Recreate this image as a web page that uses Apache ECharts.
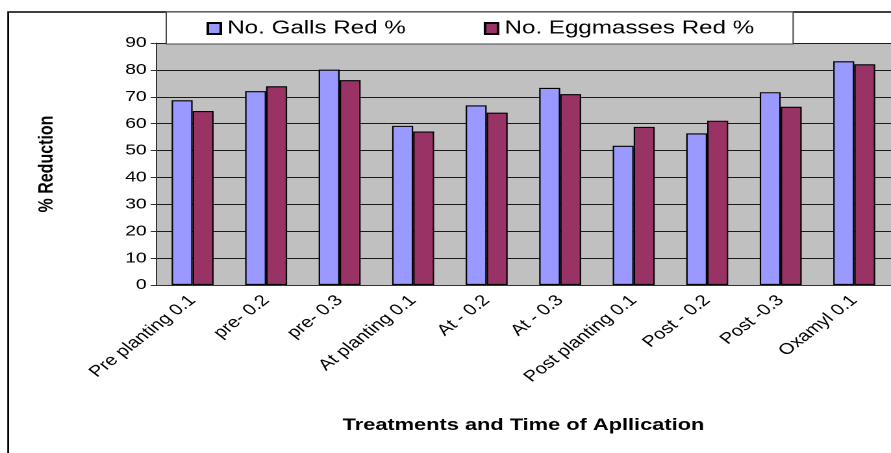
<!DOCTYPE html>
<html>
<head>
<meta charset="utf-8">
<script src="https://cdn.jsdelivr.net/npm/echarts@6/dist/echarts.min.js"></script>
<style>
html,body{margin:0;padding:0;background:#fff;overflow:hidden;width:891px;height:453px;}
/* the original picture is a stretched Excel chart, so stretch the drawing sideways */
#main{width:686px;height:453px;transform:scaleX(1.2988);transform-origin:0 0;}
</style>
</head>
<body>
<div id="main"></div>
<script>
// 数据
var categories = ['Pre planting 0.1','pre- 0.2','pre- 0.3','At planting 0.1','At - 0.2','At - 0.3','Post planting 0.1','Post - 0.2','Post -0.3','Oxamyl 0.1'];
var gallsRed = [68.7, 72.1, 80.1, 59.2, 66.8, 73.3, 51.8, 56.4, 71.7, 83.2];
var eggRed = [64.7, 73.9, 76.2, 57.1, 64.1, 71.0, 58.8, 61.1, 66.3, 82.1];
var yTicks = {min: 0, max: 90, step: 10};

var myChart = echarts.init(document.getElementById('main'), null, {devicePixelRatio: 2});
var font = 'Liberation Sans, Arial, sans-serif';

var option = {
    backgroundColor: '#fff',
    animation: false,
    textStyle: {fontFamily: font},
    graphic: [
        {
            type: 'rect',
            z: -10,
            shape: {x: 6.3, y: 12, width: 1000, height: 1000},
            style: {fill: 'none', stroke: '#000', lineWidth: 1.4}
        }
    ],
    legend: {
        left: 128,
        top: 12,
        padding: [7, 30, 6, 31],
        itemGap: 60,
        itemWidth: 10,
        itemHeight: 11,
        icon: 'rect',
        backgroundColor: '#fff',
        borderColor: '#444',
        borderWidth: 1,
        textStyle: {fontSize: 18.6, color: '#000', fontFamily: font},
        data: ['No. Galls Red %', 'No. Eggmasses Red %']
    },
    grid: {
        left: 120,
        top: 43,
        right: -5.5,
        bottom: 168,
        show: true,
        backgroundColor: '#C0C0C0',
        borderWidth: 0
    },
    xAxis: {
        type: 'category',
        data: categories,
        name: 'Treatments and Time of Apllication',
        nameLocation: 'middle',
        nameGap: 132,
        nameTextStyle: {fontSize: 16.8, fontWeight: 'bold', color: '#000'},
        axisLine: {lineStyle: {color: '#333', width: 1}},
        axisTick: {length: 5, lineStyle: {color: '#333'}},
        axisLabel: {rotate: 45, fontSize: 15.5, color: '#000', margin: 13, interval: 0}
    },
    yAxis: {
        type: 'value',
        min: yTicks.min,
        max: yTicks.max,
        interval: yTicks.step,
        name: '% Reduction',
        nameLocation: 'middle',
        nameGap: 76,
        nameRotate: 90,
        nameTextStyle: {fontSize: 16, fontWeight: 'bold', color: '#000'},
        axisLine: {show: true, lineStyle: {color: '#333', width: 1}},
        axisTick: {show: true, length: 4, lineStyle: {color: '#333'}},
        axisLabel: {fontSize: 15, color: '#000', margin: 7},
        splitLine: {lineStyle: {color: '#1a1a1a', width: 1}}
    },
    series: [
        {
            name: 'No. Galls Red %',
            type: 'bar',
            data: gallsRed,
            barGap: '0%',
            barCategoryGap: '42.9%',
            itemStyle: {color: '#9999FF', borderColor: '#000', borderWidth: 1.1}
        },
        {
            name: 'No. Eggmasses Red %',
            type: 'bar',
            data: eggRed,
            barGap: '0%',
            barCategoryGap: '42.9%',
            itemStyle: {color: '#993366', borderColor: '#000', borderWidth: 1.1}
        }
    ]
};
myChart.setOption(option);
</script>
</body>
</html>
